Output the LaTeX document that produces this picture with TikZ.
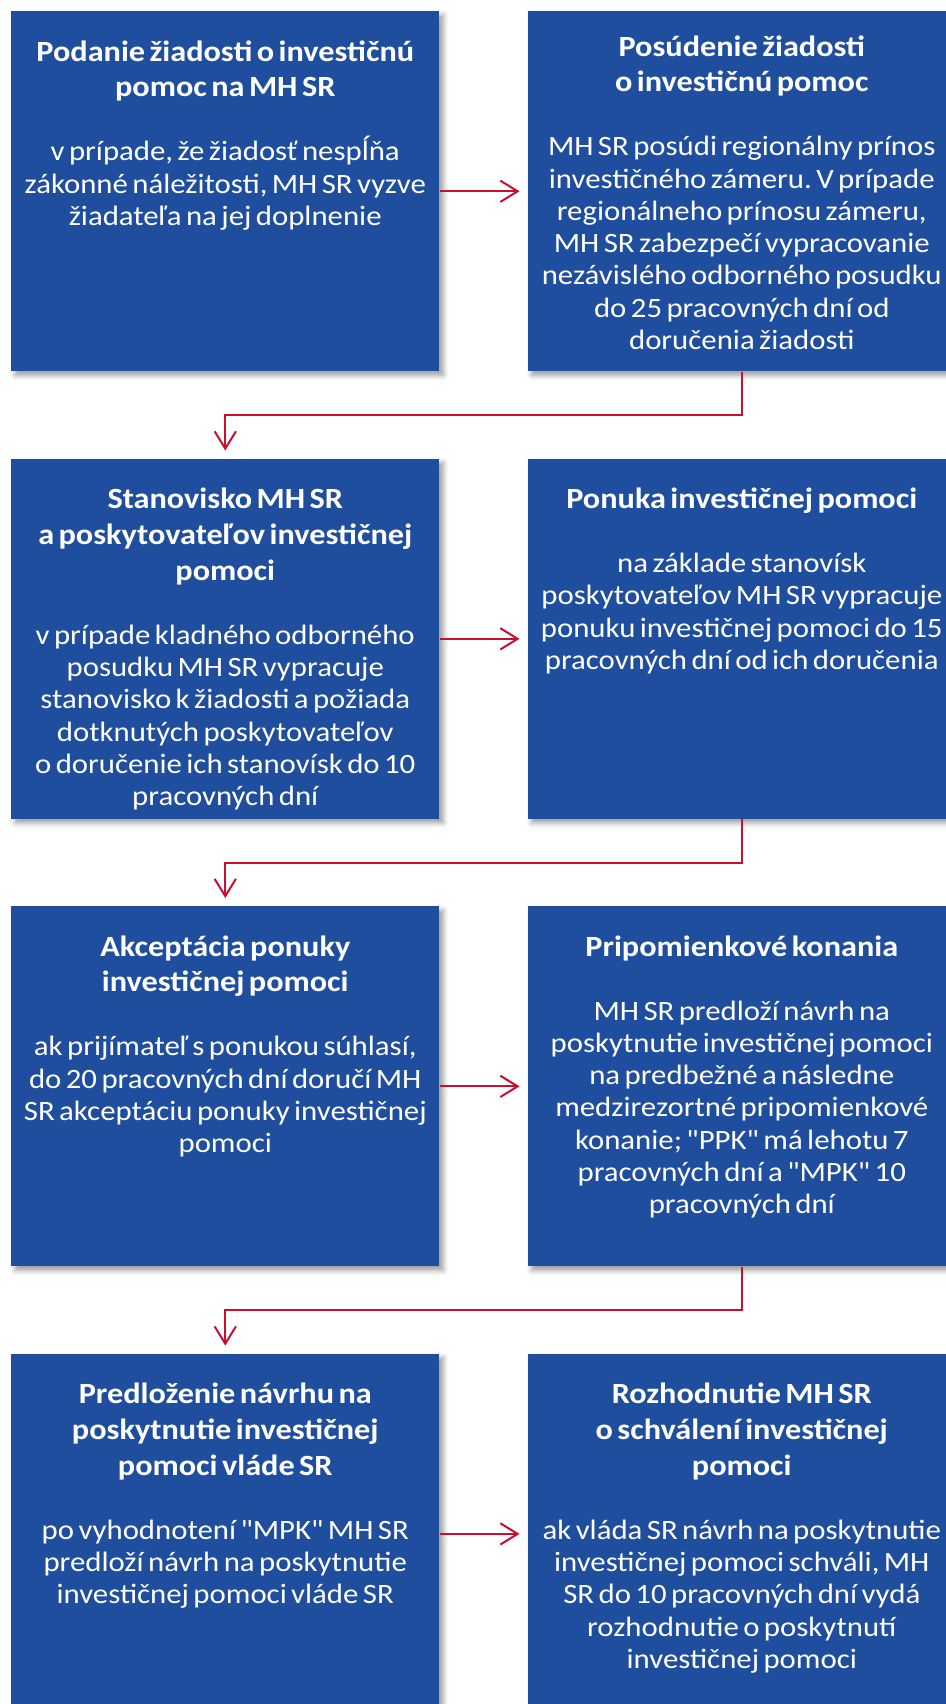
\documentclass[tikz,border=0pt]{standalone}
\usepackage{fontspec}
\setmainfont{Carlito}[FakeStretch=1.1]
\newfontfamily\quotefont{Carlito}[FakeStretch=1.1]
\usetikzlibrary{positioning,arrows.meta,shadows.blur}
\definecolor{boxblue}{HTML}{204E9E}
\definecolor{arrowred}{HTML}{C8102E}
\newcommand{\titlefont}{\fontsize{22pt}{26.9pt}\selectfont\bfseries}
\newcommand{\bodyfont}{\fontsize{21pt}{24.2pt}\selectfont}
\newcommand{\qt}[1]{{\quotefont\symbol{34}}#1{\quotefont\symbol{34}}}
\newcommand{\boxtext}[2]{\frenchspacing{\titlefont\rule{0pt}{20pt}#1\par}\vspace{23.8pt}{\bodyfont #2\par}}
\tikzset{
  box/.style={rectangle, fill=boxblue, minimum width=321pt, minimum height=270pt, inner sep=0pt,
    blur shadow={shadow xshift=3pt, shadow yshift=-3pt, shadow blur radius=4pt, shadow opacity=40}},
  txt/.style={anchor=north, yshift=-17.3pt, text width=330pt, align=center, inner sep=0pt, text=white},
  link/.style={draw=arrowred, line width=1.5pt, -{Straight Barb[length=13pt,width=16pt]}, shorten >=6pt},
}

\begin{document}
\begin{tikzpicture}
  \useasboundingbox (0,0) rectangle (709.5pt,-1278pt);

  % boxes
  \node[box, anchor=north west] (podanie) at (8.25pt,-8.25pt) {};
  \node[box, right=66pt of podanie] (posudenie) {};
  \node[box, below=65.25pt of podanie] (stanovisko) {};
  \node[box, right=66pt of stanovisko] (ponuka) {};
  \node[box, below=65.25pt of stanovisko] (akceptacia) {};
  \node[box, right=66pt of akceptacia] (pripomienky) {};
  \node[box, below=65.25pt of akceptacia] (predlozenie) {};
  \node[box, right=66pt of predlozenie] (rozhodnutie) {};

  % texts
  \node[txt] (podanieT) at (podanie.north) {\boxtext{Podanie žiadosti o investičnú\\pomoc na MH SR}
    {v prípade, že žiadosť nespĺňa\\zákonné náležitosti, MH SR vyzve\\žiadateľa na jej doplnenie}};
  \node[txt, yshift=3.75pt] (posudenieT) at (posudenie.north) {\boxtext{Posúdenie žiadosti\\o investičnú pomoc}
    {MH SR posúdi regionálny prínos\\investičného zámeru. V prípade\\regionálneho prínosu zámeru,\\MH SR zabezpečí vypracovanie\\nezávislého odborného posudku\\do 25 pracovných dní od\\doručenia žiadosti}};
  \node[txt] (stanoviskoT) at (stanovisko.north) {\boxtext{Stanovisko MH SR\\a poskytovateľov investičnej\\pomoci}
    {v prípade kladného odborného\\posudku MH SR vypracuje\\stanovisko k žiadosti a požiada\\dotknutých poskytovateľov\\o doručenie ich stanovísk do 10\\pracovných dní}};
  \node[txt] (ponukaT) at (ponuka.north) {\boxtext{Ponuka investičnej pomoci}
    {na základe stanovísk\\poskytovateľov MH SR vypracuje\\ponuku investičnej pomoci do 15\\pracovných dní od ich doručenia}};
  \node[txt] (akceptaciaT) at (akceptacia.north) {\boxtext{Akceptácia ponuky\\investičnej pomoci}
    {ak prijímateľ s ponukou súhlasí,\\do 20 pracovných dní doručí MH\\SR akceptáciu ponuky investičnej\\pomoci}};
  \node[txt] (pripomienkyT) at (pripomienky.north) {\boxtext{Pripomienkové konania}
    {MH SR predloží návrh na\\poskytnutie investičnej pomoci\\na predbežné a následne\\medzirezortné pripomienkové\\konanie; \qt{PPK} má lehotu 7\\pracovných dní a \qt{MPK} 10\\pracovných dní}};
  \node[txt] (predlozenieT) at (predlozenie.north) {\boxtext{Predloženie návrhu na\\poskytnutie investičnej\\pomoci vláde SR}
    {po vyhodnotení \qt{MPK} MH SR\\predloží návrh na poskytnutie\\investičnej pomoci vláde SR}};
  \node[txt] (rozhodnutieT) at (rozhodnutie.north) {\boxtext{Rozhodnutie MH SR\\o schválení investičnej\\pomoci}
    {ak vláda SR návrh na poskytnutie\\investičnej pomoci schváli, MH\\SR do 10 pracovných dní vydá\\rozhodnutie o poskytnutí\\investičnej pomoci}};

  % arrows
  \draw[link] (podanie) -- (posudenie);
  \draw[link] (posudenie.south) -- ++(0,-32.6pt) -| (stanovisko.north);
  \draw[link] (stanovisko) -- (ponuka);
  \draw[link] (ponuka.south) -- ++(0,-32.6pt) -| (akceptacia.north);
  \draw[link] (akceptacia) -- (pripomienky);
  \draw[link] (pripomienky.south) -- ++(0,-32.6pt) -| (predlozenie.north);
  \draw[link] (predlozenie) -- (rozhodnutie);
\end{tikzpicture}
\end{document}
